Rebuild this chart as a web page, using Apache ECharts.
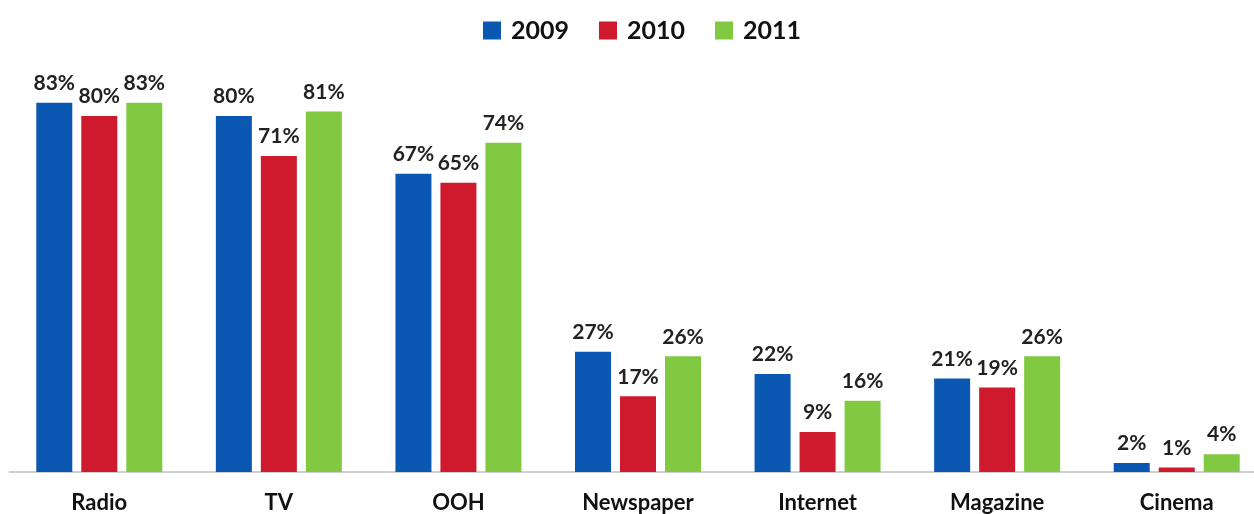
<!DOCTYPE html>
<html>
<head>
<meta charset="utf-8">
<script src="https://cdn.jsdelivr.net/npm/echarts@6/dist/echarts.min.js"></script>
<style>html,body{margin:0;padding:0;background:#fff;overflow:hidden;}#c{width:1270px;height:514px;}</style>
</head>
<body>
<div id="c"></div>
<script>
const categories = ['Radio', 'TV', 'OOH', 'Newspaper', 'Internet', 'Magazine', 'Cinema'];
const s2009 = [83, 80, 67, 27, 22, 21, 2];
const s2010 = [80, 71, 65, 17, 9, 19, 1];
const s2011 = [83, 81, 74, 26, 16, 26, 4];
const seriesNames = ['2009', '2010', '2011'];
const colors = ['#0b58b2', '#cf1a2d', '#82c942'];

const chart = echarts.init(document.getElementById('c'));
const lbl = {
  show: true, position: 'top', distance: 9,
  formatter: '{c}%', fontFamily: 'Lato', fontWeight: 'bold', fontSize: 21, color: '#222'
};
function mk(name, data, i) {
  return {
    name: name, type: 'bar', data: data, barWidth: 36, barGap: '25%',
    itemStyle: { color: colors[i] }, label: lbl
  };
}
chart.setOption({
  animation: false,
  legend: {
    top: 18, left: 483, padding: 0, itemWidth: 18, itemHeight: 18, itemGap: 30,
    icon: 'rect',
    textStyle: { fontFamily: 'Lato', fontWeight: 'bold', fontSize: 25, color: '#111', padding: [0, 0, 0, 5] },
    data: seriesNames
  },
  grid: { left: 9.5, right: 3.5, top: 27, bottom: 40 },
  xAxis: {
    type: 'category', data: categories,
    axisLine: { lineStyle: { color: '#d0d0d0', width: 2 } },
    axisTick: { show: false },
    axisLabel: { fontFamily: 'Lato', fontWeight: 'bold', fontSize: 22, color: '#111', margin: 20 }
  },
  yAxis: { type: 'value', min: 0, max: 100, show: false, splitLine: { show: false } },
  series: [mk(seriesNames[0], s2009, 0), mk(seriesNames[1], s2010, 1), mk(seriesNames[2], s2011, 2)]
});
</script>
</body>
</html>
